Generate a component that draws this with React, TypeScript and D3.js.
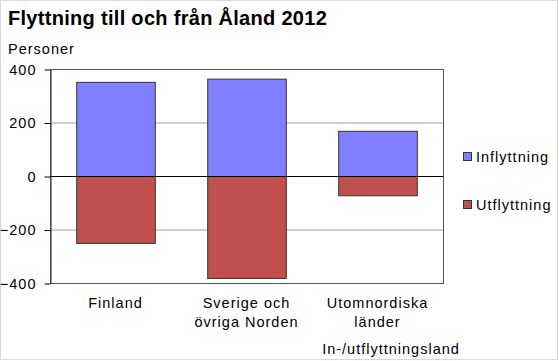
import { useEffect, useRef } from 'react';
import * as d3 from 'd3';

const categories = [['Finland'], ['Sverige och', 'övriga Norden'], ['Utomnordiska', 'länder']];
const inflyttning = [352, 364, 169];
const utflyttning = [-250, -381, -72];
const yTicks = [-400, -200, 0, 200, 400];
const seriesNames = ['Inflyttning', 'Utflyttning'];
const seriesColors = ['#8080ff', '#c0504d'];

export default function App() {
    const ref = useRef<SVGSVGElement>(null);

    useEffect(() => {
        const svg = d3.select(ref.current);
        svg.selectAll('*').remove();
        const font = 'Arial, "Liberation Sans", sans-serif';
        const fs = 14.5;
        const ls = 1;

        const left = 50, right = 443, top = 69, bottom = 283;

        const x = d3.scaleBand<number>()
            .domain(d3.range(categories.length))
            .range([left, right])
            .paddingInner(0.4)
            .paddingOuter(0.2);
        const y = d3.scaleLinear().domain([-400, 400]).range([bottom, top]);

        svg.append('rect').attr('x', 0.5).attr('y', 0.5).attr('width', 557).attr('height', 359)
            .attr('fill', 'white').attr('stroke', '#d9d9d9');

        svg.append('text').attr('x', 8).attr('y', 25)
            .attr('font-family', font).attr('font-size', 20).attr('font-weight', 'bold')
            .attr('letter-spacing', 0.3)
            .text('Flyttning till och från Åland 2012');
        svg.append('text').attr('x', 8).attr('y', 54)
            .attr('font-family', font).attr('font-size', fs).attr('letter-spacing', ls)
            .text('Personer');

        // grid
        svg.append('g').selectAll('line').data(yTicks.filter(d => d !== 0 && Math.abs(d) !== 400)).join('line')
            .attr('x1', left).attr('x2', right)
            .attr('y1', d => y(d) + 0.5).attr('y2', d => y(d) + 0.5)
            .attr('stroke', '#c0c0c0').attr('stroke-width', 1.5);

        svg.append('rect').attr('x', left + 0.5).attr('y', top + 0.5)
            .attr('width', right - left).attr('height', bottom - top)
            .attr('fill', 'none').attr('stroke', '#555').attr('stroke-width', 1);

        const bars = svg.append('g');
        [inflyttning, utflyttning].forEach((vals, s) => {
            bars.selectAll(null).data(vals).join('rect')
                .attr('x', (d, i) => (x(i) as number) + 0.5)
                .attr('width', x.bandwidth())
                .attr('y', d => Math.min(y(d), y(0)) + 0.5)
                .attr('height', d => Math.abs(y(d) - y(0)))
                .attr('fill', seriesColors[s])
                .attr('stroke', '#333').attr('stroke-width', 1);
        });

        svg.append('line').attr('x1', left).attr('x2', right)
            .attr('y1', y(0) + 0.5).attr('y2', y(0) + 0.5)
            .attr('stroke', 'black');

        const yAxis = svg.append('g').attr('transform', `translate(${left + 0.5},0.5)`)
            .call(d3.axisLeft(y).tickValues(yTicks).tickSize(6).tickSizeOuter(0).tickPadding(8));
        yAxis.select('.domain').attr('stroke', '#333');
        yAxis.selectAll('text').attr('font-family', font).attr('font-size', fs)
            .attr('letter-spacing', ls).attr('fill', 'black');

        const cat = svg.append('g');
        categories.forEach((lines, i) => {
            const cx = (x(i) as number) + x.bandwidth() / 2;
            lines.forEach((l, j) => {
                cat.append('text').attr('x', cx).attr('y', bottom + 25 + j * 19)
                    .attr('text-anchor', 'middle')
                    .attr('font-family', font).attr('font-size', fs).attr('letter-spacing', ls)
                    .text(l);
            });
        });

        svg.append('text').attr('x', 391).attr('y', 354).attr('text-anchor', 'middle')
            .attr('font-family', font).attr('font-size', fs).attr('letter-spacing', ls)
            .text('In-/utflyttningsland');

        const legend = svg.append('g');
        seriesNames.forEach((n, i) => {
            const ly = 152 + i * 48;
            legend.append('rect').attr('x', 463.5).attr('y', ly + 0.5).attr('width', 8).attr('height', 8)
                .attr('fill', seriesColors[i]).attr('stroke', '#333');
            legend.append('text').attr('x', 476).attr('y', ly + 10)
                .attr('font-family', font).attr('font-size', fs).attr('letter-spacing', ls)
                .text(n);
        });
    }, []);

    return (
        <svg ref={ref} width={559} height={361}
            style={{ position: 'absolute', left: 0, top: 0, display: 'block' }} />
    );
}
